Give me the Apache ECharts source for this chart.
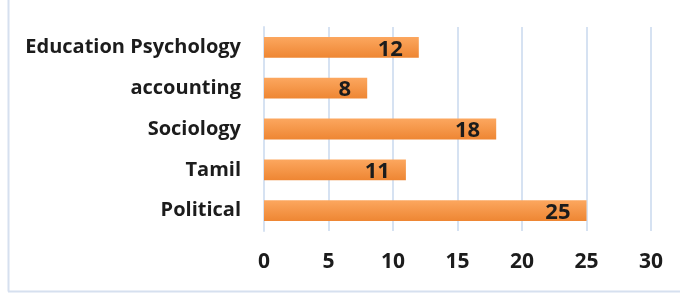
<!DOCTYPE html>
<html><head><meta charset="utf-8">
<script src="https://cdn.jsdelivr.net/npm/echarts@6/dist/echarts.min.js"></script>
<style>html,body{margin:0;padding:0;background:#fff}#c{width:680px;height:294px}</style>
</head><body><div id="c"></div>
<script>
var categories = ["Political", "Tamil", "Sociology", "accounting", "Education Psychology"];
var values = [25, 11, 18, 8, 12];
var xTicks = [0, 5, 10, 15, 20, 25, 30];

var FONT = 'Open Sans';
var chart = echarts.init(document.getElementById('c'), null, {renderer: 'canvas'});
chart.setOption({
  animation: false,
  backgroundColor: '#fff',
  textStyle: {fontFamily: FONT},
  graphic: [
    {type: 'line', shape: {x1: 8.5, y1: 0, x2: 8.5, y2: 291.5}, style: {stroke: '#d6e0ef', lineWidth: 2}},
    {type: 'line', shape: {x1: 8, y1: 291.5, x2: 680, y2: 291.5}, style: {stroke: '#d6e0ef', lineWidth: 2}}
  ],
  grid: {left: 264, right: 29, top: 27, bottom: 63, containLabel: false},
  xAxis: {
    type: 'value', min: xTicks[0], max: xTicks[xTicks.length - 1], interval: 5,
    axisLine: {show: false}, axisTick: {show: false},
    splitLine: {show: true, lineStyle: {color: '#d6e2f2', width: 2}},
    axisLabel: {margin: 21, color: '#1c1c1c', fontSize: 21, fontWeight: 'bold', fontFamily: FONT}
  },
  yAxis: {
    type: 'category', data: categories,
    axisLine: {show: true, lineStyle: {color: '#d6e2f2', width: 2}}, axisTick: {show: false},
    axisLabel: {margin: 23, color: '#1c1c1c', fontSize: 20, fontWeight: 'bold', fontFamily: FONT}
  },
  series: [{
    type: 'bar', data: values, barWidth: '51%',
    itemStyle: {color: new echarts.graphic.LinearGradient(0, 0, 0, 1, [
      {offset: 0, color: '#fca75f'}, {offset: 1, color: '#ee8633'}])},
    label: {show: true, position: 'insideRight', distance: 16, color: '#1c1c1c',
      fontSize: 22, fontWeight: 'bold', fontFamily: FONT, offset: [0, 2]}
  }]
});
</script></body></html>
